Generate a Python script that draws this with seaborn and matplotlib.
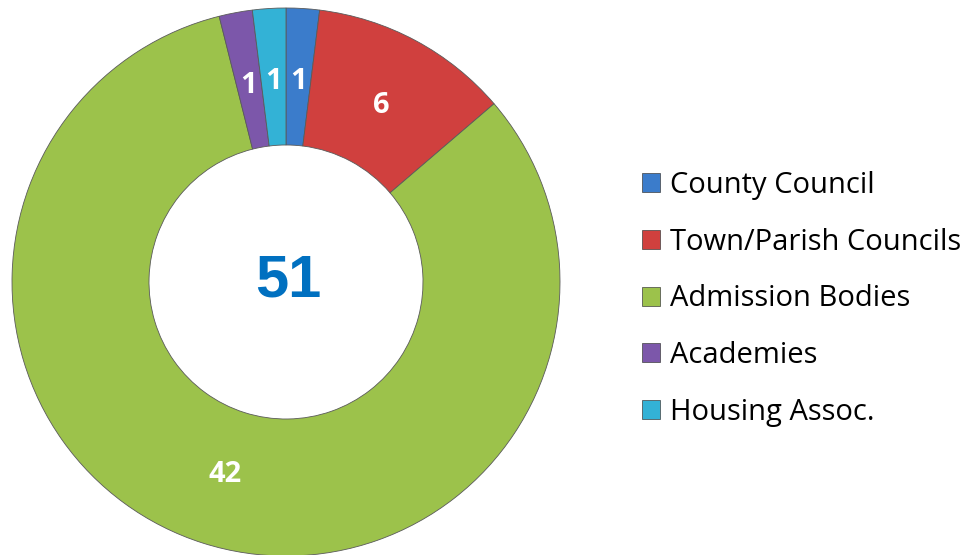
import matplotlib
matplotlib.use("Agg")
import matplotlib.pyplot as plt
import seaborn as sns
import numpy as np
from matplotlib.patches import Patch

sns.set_style("white")
plt.rcParams['font.family'] = ['Open Sans', 'DejaVu Sans']
plt.rcParams['text.color'] = 'black'

categories = ["County Council", "Town/Parish Councils", "Admission Bodies", "Academies", "Housing Assoc."]
values = [1, 6, 42, 1, 1]
colors = ["#3B7CCB", "#D0403E", "#9CC24B", "#7C57AA", "#33B2D6"]
total_label = "51"

W, H = 966, 555
fig = plt.figure(figsize=(W / 100, H / 100), dpi=100)
ax = fig.add_axes([0, 0, 1, 1])
cx, cy = 286, 555 - 282
R = 274

wedges, _ = ax.pie(values, colors=colors, startangle=90, counterclock=False,
                   center=(cx, cy), radius=R, frame=True,
                   wedgeprops=dict(width=R * 0.5, edgecolor="#5a5a5a", linewidth=0.6))
ax.set_xlim(0, W)
ax.set_ylim(0, H)
ax.set_aspect('auto')
ax.axis('off')

cum = np.cumsum([0] + values)
tot = sum(values)
rl = R * 0.735
for i, v in enumerate(values):
    mid = (cum[i] + cum[i + 1]) / 2 / tot * 2 * np.pi
    x = cx + rl * np.sin(mid)
    y = cy + rl * np.cos(mid)
    ax.text(x, y - 1, str(v), ha='center', va='center', color='white',
            fontsize=21, fontweight='bold')

ax.text(cx + 2, cy + 1, total_label, ha='center', va='center', color='#0070C0',
        fontsize=43, fontweight='bold', family=['Liberation Sans', 'DejaVu Sans'])

handles = [Patch(facecolor=c, edgecolor='#404040', linewidth=0.5) for c in colors]
leg = fig.legend(handles, categories, loc='center left', bbox_to_anchor=(642 / W, 1 - 299 / H),
                 frameon=False, fontsize=21, handlelength=0.62, handleheight=0.62,
                 handletextpad=0.34, labelspacing=0.95, borderpad=0, borderaxespad=0,
                 labelcolor='black')

fig.savefig("out.png", dpi=100)
